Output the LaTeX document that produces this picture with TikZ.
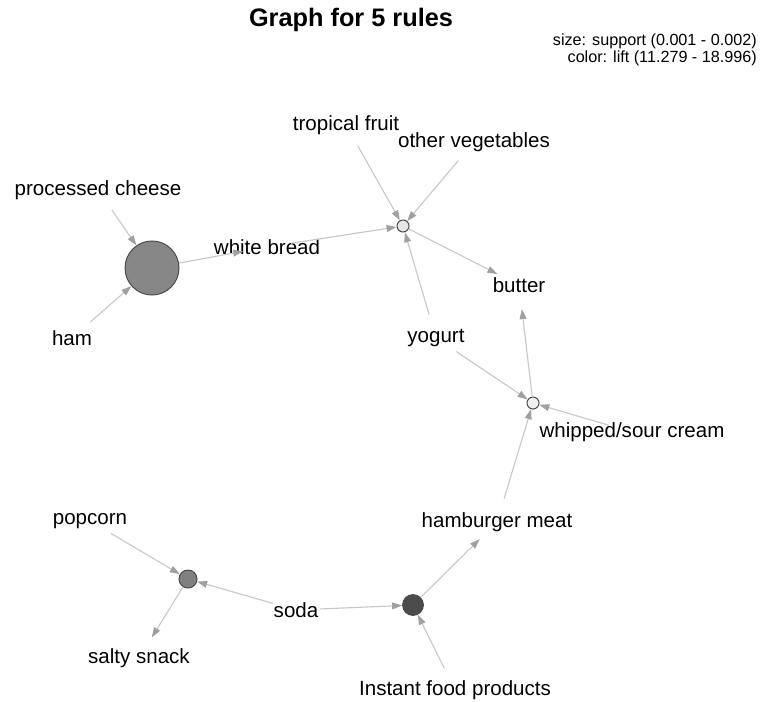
\documentclass[tikz,border=0pt]{standalone}
\usepackage{fontspec}
\setmainfont{Liberation Sans}
\usetikzlibrary{arrows.meta,shapes.geometric}

\definecolor{edgegray}{HTML}{C8C8C8}
\definecolor{tipgray}{HTML}{A0A0A0}
\definecolor{rimgray}{HTML}{4A4A4A}

\begin{document}
\begin{tikzpicture}[
  x=0.025cm, y=-0.025cm,
  font=\fontsize{14.6}{16}\selectfont,
  item/.style={circle,minimum size=1.2cm,inner sep=0pt},
  rule/.style={circle,draw=rimgray,line width=0.7pt,inner sep=0pt},
  edge/.style={draw=edgegray,line width=0.8pt,-{Triangle[length=2.5mm,width=1.7mm,color=tipgray]}},
]
\useasboundingbox (0,0) rectangle (762,702);

\node[font=\bfseries\fontsize{18}{20}\selectfont] (title) at (351,20) {Graph for 5 rules};
\node[anchor=east,inner sep=0pt,font=\fontsize{11.5}{13}\selectfont] (legsize) at (757,41) {size: support (0.001 - 0.002)};
\node[anchor=east,inner sep=0pt,font=\fontsize{11.5}{13}\selectfont] (legcol)  at (757,58) {color: lift (11.279 - 18.996)};

\node[rule,fill=black!47,minimum size=1.35cm] (r1) at (152,268) {};
\node[rule,fill=black!10,minimum size=0.3cm]  (r2) at (403,226) {};
\node[rule,fill=black!6,minimum size=0.3cm]   (r3) at (533,403) {};
\node[rule,fill=black!50,minimum size=0.45cm] (r4) at (188,579) {};
\node[rule,fill=black!70,minimum size=0.52cm] (r5) at (413,605) {};

\node[item,label=center:processed cheese]     (cheese) at (98,190)  {};
\node[item,label=center:ham]                  (ham)    at (72,338)  {};
\node[item,label=center:white bread]          (bread)  at (267,247) {};
\node[item,label=center:tropical fruit]       (fruit)  at (346,125) {};
\node[item,label=center:other vegetables]     (veg)    at (474,142) {};
\node[item,label=center:butter]               (butter) at (519,285) {};
\node[item,label=center:yogurt]               (yogurt) at (436,338) {};
\node[item,label=center:whipped/sour cream]   (cream)  at (632,432) {};
\node[item,label=center:hamburger meat]       (meat)   at (497,522) {};
\node[item,label=center:popcorn]              (pop)    at (90,521)  {};
\node[item,label=center:soda]                 (soda)   at (296,610) {};
\node[item,label=center:salty snack]          (snack)  at (139,658) {};
\node[item,label=center:Instant food products] (instant) at (455,690) {};

\draw[edge] (cheese) -- (r1);
\draw[edge] (ham)    -- (r1);
\draw[edge] (r1)     -- (bread);
\draw[edge] (bread)  -- (r2);
\draw[edge] (fruit)  -- (r2);
\draw[edge] (veg)    -- (r2);
\draw[edge] (yogurt) -- (r2);
\draw[edge] (r2)     -- (butter);
\draw[edge] (yogurt) -- (r3);
\draw[edge] (cream)  -- (r3);
\draw[edge] (meat)   -- (r3);
\draw[edge] (r3)     -- (butter);
\draw[edge] (pop)    -- (r4);
\draw[edge] (soda)   -- (r4);
\draw[edge] (r4)     -- (snack);
\draw[edge] (soda)   -- (r5);
\draw[edge] (instant) -- (r5);
\draw[edge] (r5)     -- (meat);
\end{tikzpicture}
\end{document}
